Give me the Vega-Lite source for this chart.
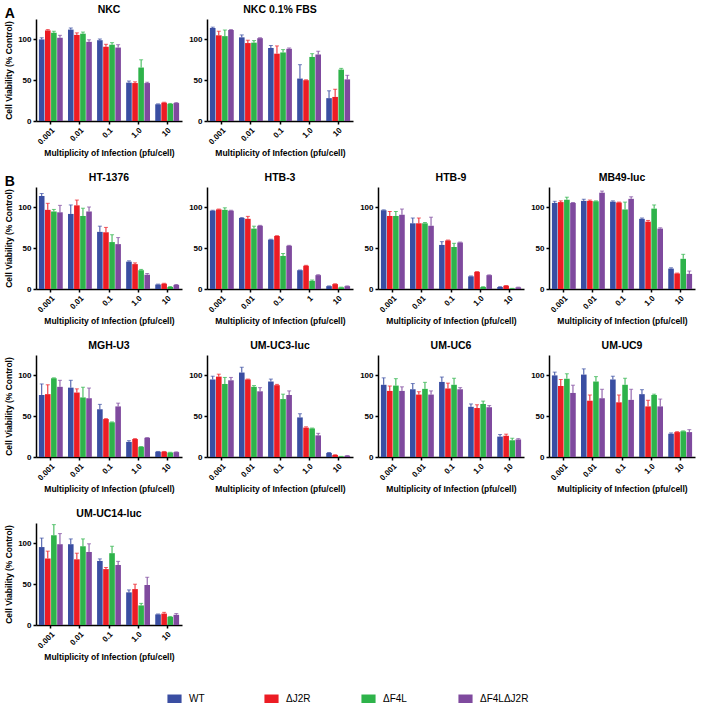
{
"$schema":"https://vega.github.io/schema/vega-lite/v6.json",
"padding":{"left":4,"top":4,"right":4,"bottom":4},
"background":"white",
"datasets":{"d":[
{"p":"NKC","d":"0.001","v":"WT","m":100,"u":102},{"p":"NKC","d":"0.001","v":"ΔJ2R","m":111,"u":112},{"p":"NKC","d":"0.001","v":"ΔF4L","m":108,"u":110},{"p":"NKC","d":"0.001","v":"ΔF4LΔJ2R","m":102,"u":105},
{"p":"NKC","d":"0.01","v":"WT","m":112,"u":114},{"p":"NKC","d":"0.01","v":"ΔJ2R","m":105.5,"u":108},{"p":"NKC","d":"0.01","v":"ΔF4L","m":107,"u":109},{"p":"NKC","d":"0.01","v":"ΔF4LΔJ2R","m":97,"u":99.5},
{"p":"NKC","d":"0.1","v":"WT","m":99,"u":100.5},{"p":"NKC","d":"0.1","v":"ΔJ2R","m":91,"u":94},{"p":"NKC","d":"0.1","v":"ΔF4L","m":93.5,"u":96},{"p":"NKC","d":"0.1","v":"ΔF4LΔJ2R","m":90,"u":93.5},
{"p":"NKC","d":"1.0","v":"WT","m":47,"u":49},{"p":"NKC","d":"1.0","v":"ΔJ2R","m":46.5,"u":48},{"p":"NKC","d":"1.0","v":"ΔF4L","m":65.5,"u":75},{"p":"NKC","d":"1.0","v":"ΔF4LΔJ2R","m":46.5,"u":47.5},
{"p":"NKC","d":"10","v":"WT","m":20.5,"u":21},{"p":"NKC","d":"10","v":"ΔJ2R","m":22.5,"u":23},{"p":"NKC","d":"10","v":"ΔF4L","m":21,"u":21.5},{"p":"NKC","d":"10","v":"ΔF4LΔJ2R","m":22,"u":22.5},

{"p":"NKC 0.1% FBS","d":"0.001","v":"WT","m":114,"u":115},{"p":"NKC 0.1% FBS","d":"0.001","v":"ΔJ2R","m":105,"u":110},{"p":"NKC 0.1% FBS","d":"0.001","v":"ΔF4L","m":104,"u":111.5},{"p":"NKC 0.1% FBS","d":"0.001","v":"ΔF4LΔJ2R","m":111.5,"u":112},
{"p":"NKC 0.1% FBS","d":"0.01","v":"WT","m":102.5,"u":105.5},{"p":"NKC 0.1% FBS","d":"0.01","v":"ΔJ2R","m":95.5,"u":99},{"p":"NKC 0.1% FBS","d":"0.01","v":"ΔF4L","m":96,"u":98.5},{"p":"NKC 0.1% FBS","d":"0.01","v":"ΔF4LΔJ2R","m":101.5,"u":102},
{"p":"NKC 0.1% FBS","d":"0.1","v":"WT","m":89.5,"u":92.5},{"p":"NKC 0.1% FBS","d":"0.1","v":"ΔJ2R","m":82.5,"u":92},{"p":"NKC 0.1% FBS","d":"0.1","v":"ΔF4L","m":84,"u":87.5},{"p":"NKC 0.1% FBS","d":"0.1","v":"ΔF4LΔJ2R","m":88.5,"u":89.5},
{"p":"NKC 0.1% FBS","d":"1.0","v":"WT","m":52,"u":69},{"p":"NKC 0.1% FBS","d":"1.0","v":"ΔJ2R","m":50,"u":50.5},{"p":"NKC 0.1% FBS","d":"1.0","v":"ΔF4L","m":78.5,"u":82.5},{"p":"NKC 0.1% FBS","d":"1.0","v":"ΔF4LΔJ2R","m":81.5,"u":85.5},
{"p":"NKC 0.1% FBS","d":"10","v":"WT","m":28,"u":37},{"p":"NKC 0.1% FBS","d":"10","v":"ΔJ2R","m":29.5,"u":39},{"p":"NKC 0.1% FBS","d":"10","v":"ΔF4L","m":63,"u":64.5},{"p":"NKC 0.1% FBS","d":"10","v":"ΔF4LΔJ2R","m":51,"u":56},

{"p":"HT-1376","d":"0.001","v":"WT","m":114,"u":117},{"p":"HT-1376","d":"0.001","v":"ΔJ2R","m":97,"u":105},{"p":"HT-1376","d":"0.001","v":"ΔF4L","m":95,"u":97.5},{"p":"HT-1376","d":"0.001","v":"ΔF4LΔJ2R","m":94,"u":102.5},
{"p":"HT-1376","d":"0.01","v":"WT","m":92,"u":103},{"p":"HT-1376","d":"0.01","v":"ΔJ2R","m":102.5,"u":109},{"p":"HT-1376","d":"0.01","v":"ΔF4L","m":89.5,"u":99},{"p":"HT-1376","d":"0.01","v":"ΔF4LΔJ2R","m":95,"u":100.5},
{"p":"HT-1376","d":"0.1","v":"WT","m":70,"u":77},{"p":"HT-1376","d":"0.1","v":"ΔJ2R","m":69.5,"u":75.5},{"p":"HT-1376","d":"0.1","v":"ΔF4L","m":57.5,"u":66.5},{"p":"HT-1376","d":"0.1","v":"ΔF4LΔJ2R","m":55,"u":63},
{"p":"HT-1376","d":"1.0","v":"WT","m":33.5,"u":34.5},{"p":"HT-1376","d":"1.0","v":"ΔJ2R","m":30.5,"u":32},{"p":"HT-1376","d":"1.0","v":"ΔF4L","m":23,"u":24},{"p":"HT-1376","d":"1.0","v":"ΔF4LΔJ2R","m":17.5,"u":19},
{"p":"HT-1376","d":"10","v":"WT","m":5.5,"u":6},{"p":"HT-1376","d":"10","v":"ΔJ2R","m":6.5,"u":7},{"p":"HT-1376","d":"10","v":"ΔF4L","m":2.5,"u":3},{"p":"HT-1376","d":"10","v":"ΔF4LΔJ2R","m":5,"u":5.5},

{"p":"HTB-3","d":"0.001","v":"WT","m":96,"u":96.5},{"p":"HTB-3","d":"0.001","v":"ΔJ2R","m":97.5,"u":98},{"p":"HTB-3","d":"0.001","v":"ΔF4L","m":97,"u":99.5},{"p":"HTB-3","d":"0.001","v":"ΔF4LΔJ2R","m":96,"u":96.5},
{"p":"HTB-3","d":"0.01","v":"WT","m":87,"u":87.5},{"p":"HTB-3","d":"0.01","v":"ΔJ2R","m":86,"u":89},{"p":"HTB-3","d":"0.01","v":"ΔF4L","m":74,"u":77},{"p":"HTB-3","d":"0.01","v":"ΔF4LΔJ2R","m":77.5,"u":78},
{"p":"HTB-3","d":"0.1","v":"WT","m":60.5,"u":61},{"p":"HTB-3","d":"0.1","v":"ΔJ2R","m":65,"u":65.3},{"p":"HTB-3","d":"0.1","v":"ΔF4L","m":40.5,"u":43.5},{"p":"HTB-3","d":"0.1","v":"ΔF4LΔJ2R","m":53,"u":53.5},
{"p":"HTB-3","d":"1","v":"WT","m":23,"u":23.3},{"p":"HTB-3","d":"1","v":"ΔJ2R","m":28.5,"u":29},{"p":"HTB-3","d":"1","v":"ΔF4L","m":10,"u":11},{"p":"HTB-3","d":"1","v":"ΔF4LΔJ2R","m":17,"u":17.5},
{"p":"HTB-3","d":"10","v":"WT","m":3.5,"u":3.8},{"p":"HTB-3","d":"10","v":"ΔJ2R","m":6,"u":6.3},{"p":"HTB-3","d":"10","v":"ΔF4L","m":2,"u":2.3},{"p":"HTB-3","d":"10","v":"ΔF4LΔJ2R","m":3.5,"u":3.8},

{"p":"HTB-9","d":"0.001","v":"WT","m":96.5,"u":97},{"p":"HTB-9","d":"0.001","v":"ΔJ2R","m":89.5,"u":95},{"p":"HTB-9","d":"0.001","v":"ΔF4L","m":89.5,"u":95},{"p":"HTB-9","d":"0.001","v":"ΔF4LΔJ2R","m":91,"u":98},
{"p":"HTB-9","d":"0.01","v":"WT","m":80.5,"u":87},{"p":"HTB-9","d":"0.01","v":"ΔJ2R","m":80.5,"u":87},{"p":"HTB-9","d":"0.01","v":"ΔF4L","m":80.5,"u":81.5},{"p":"HTB-9","d":"0.01","v":"ΔF4LΔJ2R","m":77.5,"u":88},
{"p":"HTB-9","d":"0.1","v":"WT","m":54,"u":58},{"p":"HTB-9","d":"0.1","v":"ΔJ2R","m":59.5,"u":60},{"p":"HTB-9","d":"0.1","v":"ΔF4L","m":51.5,"u":56},{"p":"HTB-9","d":"0.1","v":"ΔF4LΔJ2R","m":57,"u":57.5},
{"p":"HTB-9","d":"1.0","v":"WT","m":15.5,"u":16},{"p":"HTB-9","d":"1.0","v":"ΔJ2R","m":21,"u":21.3},{"p":"HTB-9","d":"1.0","v":"ΔF4L","m":2.5,"u":2.8},{"p":"HTB-9","d":"1.0","v":"ΔF4LΔJ2R","m":17,"u":17.3},
{"p":"HTB-9","d":"10","v":"WT","m":2.5,"u":2.8},{"p":"HTB-9","d":"10","v":"ΔJ2R","m":4,"u":4.3},{"p":"HTB-9","d":"10","v":"ΔF4L","m":0.5,"u":0.8},{"p":"HTB-9","d":"10","v":"ΔF4LΔJ2R","m":2,"u":2.3},

{"p":"MB49-luc","d":"0.001","v":"WT","m":105.5,"u":107.5},{"p":"MB49-luc","d":"0.001","v":"ΔJ2R","m":106.5,"u":108},{"p":"MB49-luc","d":"0.001","v":"ΔF4L","m":109.5,"u":112.5},{"p":"MB49-luc","d":"0.001","v":"ΔF4LΔJ2R","m":105.5,"u":106},
{"p":"MB49-luc","d":"0.01","v":"WT","m":108,"u":110},{"p":"MB49-luc","d":"0.01","v":"ΔJ2R","m":108,"u":109},{"p":"MB49-luc","d":"0.01","v":"ΔF4L","m":107.5,"u":108},{"p":"MB49-luc","d":"0.01","v":"ΔF4LΔJ2R","m":118,"u":120},
{"p":"MB49-luc","d":"0.1","v":"WT","m":107,"u":108},{"p":"MB49-luc","d":"0.1","v":"ΔJ2R","m":106,"u":106.5},{"p":"MB49-luc","d":"0.1","v":"ΔF4L","m":97.5,"u":106.5},{"p":"MB49-luc","d":"0.1","v":"ΔF4LΔJ2R","m":110.5,"u":113},
{"p":"MB49-luc","d":"1.0","v":"WT","m":86,"u":87},{"p":"MB49-luc","d":"1.0","v":"ΔJ2R","m":82.5,"u":84},{"p":"MB49-luc","d":"1.0","v":"ΔF4L","m":98.5,"u":103},{"p":"MB49-luc","d":"1.0","v":"ΔF4LΔJ2R","m":74,"u":75},
{"p":"MB49-luc","d":"10","v":"WT","m":25,"u":26},{"p":"MB49-luc","d":"10","v":"ΔJ2R","m":19,"u":19.5},{"p":"MB49-luc","d":"10","v":"ΔF4L","m":37,"u":42.5},{"p":"MB49-luc","d":"10","v":"ΔF4LΔJ2R","m":18.5,"u":22},

{"p":"MGH-U3","d":"0.001","v":"WT","m":76,"u":89.5},{"p":"MGH-U3","d":"0.001","v":"ΔJ2R","m":77,"u":88.5},{"p":"MGH-U3","d":"0.001","v":"ΔF4L","m":96.5,"u":97},{"p":"MGH-U3","d":"0.001","v":"ΔF4LΔJ2R","m":86,"u":94},
{"p":"MGH-U3","d":"0.01","v":"WT","m":85,"u":94},{"p":"MGH-U3","d":"0.01","v":"ΔJ2R","m":79,"u":83.5},{"p":"MGH-U3","d":"0.01","v":"ΔF4L","m":73,"u":85.5},{"p":"MGH-U3","d":"0.01","v":"ΔF4LΔJ2R","m":72,"u":84.5},
{"p":"MGH-U3","d":"0.1","v":"WT","m":58.5,"u":64.5},{"p":"MGH-U3","d":"0.1","v":"ΔJ2R","m":46.5,"u":47},{"p":"MGH-U3","d":"0.1","v":"ΔF4L","m":42.5,"u":43},{"p":"MGH-U3","d":"0.1","v":"ΔF4LΔJ2R","m":62,"u":66},
{"p":"MGH-U3","d":"1.0","v":"WT","m":18.5,"u":20},{"p":"MGH-U3","d":"1.0","v":"ΔJ2R","m":22,"u":22.5},{"p":"MGH-U3","d":"1.0","v":"ΔF4L","m":12.5,"u":12.8},{"p":"MGH-U3","d":"1.0","v":"ΔF4LΔJ2R","m":23.5,"u":23.8},
{"p":"MGH-U3","d":"10","v":"WT","m":6.5,"u":6.8},{"p":"MGH-U3","d":"10","v":"ΔJ2R","m":6.5,"u":6.8},{"p":"MGH-U3","d":"10","v":"ΔF4L","m":5.5,"u":5.8},{"p":"MGH-U3","d":"10","v":"ΔF4LΔJ2R","m":6,"u":6.3},

{"p":"UM-UC3-luc","d":"0.001","v":"WT","m":95,"u":99},{"p":"UM-UC3-luc","d":"0.001","v":"ΔJ2R","m":98.5,"u":101.5},{"p":"UM-UC3-luc","d":"0.001","v":"ΔF4L","m":89.5,"u":97.5},{"p":"UM-UC3-luc","d":"0.001","v":"ΔF4LΔJ2R","m":94,"u":97.5},
{"p":"UM-UC3-luc","d":"0.01","v":"WT","m":103.5,"u":110},{"p":"UM-UC3-luc","d":"0.01","v":"ΔJ2R","m":95,"u":95.5},{"p":"UM-UC3-luc","d":"0.01","v":"ΔF4L","m":86,"u":87.5},{"p":"UM-UC3-luc","d":"0.01","v":"ΔF4LΔJ2R","m":80.5,"u":85},
{"p":"UM-UC3-luc","d":"0.1","v":"WT","m":92.5,"u":95.5},{"p":"UM-UC3-luc","d":"0.1","v":"ΔJ2R","m":88,"u":89},{"p":"UM-UC3-luc","d":"0.1","v":"ΔF4L","m":71,"u":77},{"p":"UM-UC3-luc","d":"0.1","v":"ΔF4LΔJ2R","m":76,"u":81},
{"p":"UM-UC3-luc","d":"1.0","v":"WT","m":48.5,"u":53},{"p":"UM-UC3-luc","d":"1.0","v":"ΔJ2R","m":36,"u":37},{"p":"UM-UC3-luc","d":"1.0","v":"ΔF4L","m":35,"u":35.5},{"p":"UM-UC3-luc","d":"1.0","v":"ΔF4LΔJ2R","m":26.5,"u":29},
{"p":"UM-UC3-luc","d":"10","v":"WT","m":5,"u":5.5},{"p":"UM-UC3-luc","d":"10","v":"ΔJ2R","m":2.5,"u":2.8},{"p":"UM-UC3-luc","d":"10","v":"ΔF4L","m":0.5,"u":0.8},{"p":"UM-UC3-luc","d":"10","v":"ΔF4LΔJ2R","m":1.5,"u":1.8},

{"p":"UM-UC6","d":"0.001","v":"WT","m":88.5,"u":97},{"p":"UM-UC6","d":"0.001","v":"ΔJ2R","m":81,"u":87},{"p":"UM-UC6","d":"0.001","v":"ΔF4L","m":87.5,"u":96},{"p":"UM-UC6","d":"0.001","v":"ΔF4LΔJ2R","m":81,"u":86},
{"p":"UM-UC6","d":"0.01","v":"WT","m":83,"u":90},{"p":"UM-UC6","d":"0.01","v":"ΔJ2R","m":76.5,"u":80},{"p":"UM-UC6","d":"0.01","v":"ΔF4L","m":83.5,"u":91.5},{"p":"UM-UC6","d":"0.01","v":"ΔF4LΔJ2R","m":76.5,"u":81},
{"p":"UM-UC6","d":"0.1","v":"WT","m":92,"u":98},{"p":"UM-UC6","d":"0.1","v":"ΔJ2R","m":84,"u":90.5},{"p":"UM-UC6","d":"0.1","v":"ΔF4L","m":88.5,"u":96.5},{"p":"UM-UC6","d":"0.1","v":"ΔF4LΔJ2R","m":83,"u":85},
{"p":"UM-UC6","d":"1.0","v":"WT","m":61.5,"u":65},{"p":"UM-UC6","d":"1.0","v":"ΔJ2R","m":60,"u":64},{"p":"UM-UC6","d":"1.0","v":"ΔF4L","m":65,"u":68.5},{"p":"UM-UC6","d":"1.0","v":"ΔF4LΔJ2R","m":61,"u":63},
{"p":"UM-UC6","d":"10","v":"WT","m":25,"u":27.5},{"p":"UM-UC6","d":"10","v":"ΔJ2R","m":26,"u":28},{"p":"UM-UC6","d":"10","v":"ΔF4L","m":20.5,"u":23},{"p":"UM-UC6","d":"10","v":"ΔF4LΔJ2R","m":21.5,"u":22.5},

{"p":"UM-UC9","d":"0.001","v":"WT","m":100,"u":104},{"p":"UM-UC9","d":"0.001","v":"ΔJ2R","m":87,"u":95},{"p":"UM-UC9","d":"0.001","v":"ΔF4L","m":96,"u":102},{"p":"UM-UC9","d":"0.001","v":"ΔF4LΔJ2R","m":78.5,"u":88},
{"p":"UM-UC9","d":"0.01","v":"WT","m":101,"u":108},{"p":"UM-UC9","d":"0.01","v":"ΔJ2R","m":69,"u":76},{"p":"UM-UC9","d":"0.01","v":"ΔF4L","m":92.5,"u":98.5},{"p":"UM-UC9","d":"0.01","v":"ΔF4LΔJ2R","m":72,"u":83},
{"p":"UM-UC9","d":"0.1","v":"WT","m":95,"u":99},{"p":"UM-UC9","d":"0.1","v":"ΔJ2R","m":67,"u":76},{"p":"UM-UC9","d":"0.1","v":"ΔF4L","m":88.5,"u":96.5},{"p":"UM-UC9","d":"0.1","v":"ΔF4LΔJ2R","m":70,"u":83},
{"p":"UM-UC9","d":"1.0","v":"WT","m":77,"u":82.5},{"p":"UM-UC9","d":"1.0","v":"ΔJ2R","m":62,"u":69.5},{"p":"UM-UC9","d":"1.0","v":"ΔF4L","m":76,"u":77},{"p":"UM-UC9","d":"1.0","v":"ΔF4LΔJ2R","m":62,"u":71},
{"p":"UM-UC9","d":"10","v":"WT","m":28.5,"u":29.5},{"p":"UM-UC9","d":"10","v":"ΔJ2R","m":30.5,"u":31},{"p":"UM-UC9","d":"10","v":"ΔF4L","m":31.5,"u":32},{"p":"UM-UC9","d":"10","v":"ΔF4LΔJ2R","m":30.5,"u":33.5},

{"p":"UM-UC14-luc","d":"0.001","v":"WT","m":95.5,"u":106.5},{"p":"UM-UC14-luc","d":"0.001","v":"ΔJ2R","m":81.5,"u":90.5},{"p":"UM-UC14-luc","d":"0.001","v":"ΔF4L","m":110,"u":123},{"p":"UM-UC14-luc","d":"0.001","v":"ΔF4LΔJ2R","m":99,"u":112},
{"p":"UM-UC14-luc","d":"0.01","v":"WT","m":99,"u":105.5},{"p":"UM-UC14-luc","d":"0.01","v":"ΔJ2R","m":80.5,"u":88},{"p":"UM-UC14-luc","d":"0.01","v":"ΔF4L","m":96.5,"u":105.5},{"p":"UM-UC14-luc","d":"0.01","v":"ΔF4LΔJ2R","m":89.5,"u":99.5},
{"p":"UM-UC14-luc","d":"0.1","v":"WT","m":78.5,"u":81},{"p":"UM-UC14-luc","d":"0.1","v":"ΔJ2R","m":68.5,"u":70.5},{"p":"UM-UC14-luc","d":"0.1","v":"ΔF4L","m":88,"u":96.5},{"p":"UM-UC14-luc","d":"0.1","v":"ΔF4LΔJ2R","m":73.5,"u":78},
{"p":"UM-UC14-luc","d":"1.0","v":"WT","m":40,"u":43},{"p":"UM-UC14-luc","d":"1.0","v":"ΔJ2R","m":44,"u":50},{"p":"UM-UC14-luc","d":"1.0","v":"ΔF4L","m":24,"u":26.5},{"p":"UM-UC14-luc","d":"1.0","v":"ΔF4LΔJ2R","m":49,"u":58.5},
{"p":"UM-UC14-luc","d":"10","v":"WT","m":13,"u":13.5},{"p":"UM-UC14-luc","d":"10","v":"ΔJ2R","m":14,"u":15.5},{"p":"UM-UC14-luc","d":"10","v":"ΔF4L","m":10,"u":10.5},{"p":"UM-UC14-luc","d":"10","v":"ΔF4LΔJ2R","m":12.5,"u":14}
]},
"data":{"name":"d"},
"spacing":14,
"vconcat":[
{"title":{"text":"A","anchor":"start","offset":-16,"fontSize":14,"fontWeight":"bold"},
 "spacing":6,
 "hconcat":[
  {"width":146,"height":102,"title":"NKC","transform":[{"filter":"datum.p=='NKC'"}],
   "encoding":{"x":{"field":"d","type":"nominal","sort":null,"title":"Multiplicity of Infection (pfu/cell)","scale":{"paddingInner":0.18,"paddingOuter":0.1}},"xOffset":{"field":"v","type":"nominal","sort":["WT","ΔJ2R","ΔF4L","ΔF4LΔJ2R"],"scale":{"paddingInner":0.08}},"color":{"field":"v","type":"nominal","title":null,"scale":{"domain":["WT","ΔJ2R","ΔF4L","ΔF4LΔJ2R"]}}},
   "layer":[
    {"mark":{"type":"bar"},"encoding":{"y":{"field":"m","type":"quantitative","scale":{"domain":[0,125]},"axis":{"values":[0,25,50,75,100,125]},"title":"Cell Viability (% Control)"}}},
    {"mark":{"type":"rule","strokeWidth":1},"encoding":{"y":{"field":"m","type":"quantitative","scale":{"domain":[0,125]},"title":"Cell Viability (% Control)"},"y2":{"field":"u"}}},
    {"mark":{"type":"tick","thickness":1,"size":4},"encoding":{"y":{"field":"u","type":"quantitative","scale":{"domain":[0,125]},"title":"Cell Viability (% Control)"}}}
   ]},
  {"width":146,"height":102,"title":"NKC 0.1% FBS","transform":[{"filter":"datum.p=='NKC 0.1% FBS'"}],
   "encoding":{"x":{"field":"d","type":"nominal","sort":null,"title":"Multiplicity of Infection (pfu/cell)","scale":{"paddingInner":0.18,"paddingOuter":0.1}},"xOffset":{"field":"v","type":"nominal","sort":["WT","ΔJ2R","ΔF4L","ΔF4LΔJ2R"],"scale":{"paddingInner":0.08}},"color":{"field":"v","type":"nominal","title":null,"scale":{"domain":["WT","ΔJ2R","ΔF4L","ΔF4LΔJ2R"]}}},
   "layer":[
    {"mark":{"type":"bar"},"encoding":{"y":{"field":"m","type":"quantitative","scale":{"domain":[0,125]},"axis":{"values":[0,25,50,75,100,125]},"title":null}}},
    {"mark":{"type":"rule","strokeWidth":1},"encoding":{"y":{"field":"m","type":"quantitative","scale":{"domain":[0,125]},"title":null},"y2":{"field":"u"}}},
    {"mark":{"type":"tick","thickness":1,"size":4},"encoding":{"y":{"field":"u","type":"quantitative","scale":{"domain":[0,125]},"title":null}}}
   ]}
 ]},
{"title":{"text":"B","anchor":"start","offset":-16,"fontSize":14,"fontWeight":"bold"},
 "spacing":14,
 "vconcat":[
 {"spacing":6,"hconcat":[
  {"width":146,"height":102,"title":"HT-1376","transform":[{"filter":"datum.p=='HT-1376'"}],
   "encoding":{"x":{"field":"d","type":"nominal","sort":null,"title":"Multiplicity of Infection (pfu/cell)","scale":{"paddingInner":0.18,"paddingOuter":0.1}},"xOffset":{"field":"v","type":"nominal","sort":["WT","ΔJ2R","ΔF4L","ΔF4LΔJ2R"],"scale":{"paddingInner":0.08}},"color":{"field":"v","type":"nominal","title":null,"scale":{"domain":["WT","ΔJ2R","ΔF4L","ΔF4LΔJ2R"]}}},
   "layer":[
    {"mark":{"type":"bar"},"encoding":{"y":{"field":"m","type":"quantitative","scale":{"domain":[0,125]},"axis":{"values":[0,25,50,75,100,125]},"title":"Cell Viability (% Control)"}}},
    {"mark":{"type":"rule","strokeWidth":1},"encoding":{"y":{"field":"m","type":"quantitative","scale":{"domain":[0,125]},"title":"Cell Viability (% Control)"},"y2":{"field":"u"}}},
    {"mark":{"type":"tick","thickness":1,"size":4},"encoding":{"y":{"field":"u","type":"quantitative","scale":{"domain":[0,125]},"title":"Cell Viability (% Control)"}}}
   ]},
  {"width":146,"height":102,"title":"HTB-3","transform":[{"filter":"datum.p=='HTB-3'"}],
   "encoding":{"x":{"field":"d","type":"nominal","sort":null,"title":"Multiplicity of Infection (pfu/cell)","scale":{"paddingInner":0.18,"paddingOuter":0.1}},"xOffset":{"field":"v","type":"nominal","sort":["WT","ΔJ2R","ΔF4L","ΔF4LΔJ2R"],"scale":{"paddingInner":0.08}},"color":{"field":"v","type":"nominal","title":null,"scale":{"domain":["WT","ΔJ2R","ΔF4L","ΔF4LΔJ2R"]}}},
   "layer":[
    {"mark":{"type":"bar"},"encoding":{"y":{"field":"m","type":"quantitative","scale":{"domain":[0,125]},"axis":{"values":[0,25,50,75,100,125]},"title":null}}},
    {"mark":{"type":"rule","strokeWidth":1},"encoding":{"y":{"field":"m","type":"quantitative","scale":{"domain":[0,125]},"title":null},"y2":{"field":"u"}}},
    {"mark":{"type":"tick","thickness":1,"size":4},"encoding":{"y":{"field":"u","type":"quantitative","scale":{"domain":[0,125]},"title":null}}}
   ]},
  {"width":146,"height":102,"title":"HTB-9","transform":[{"filter":"datum.p=='HTB-9'"}],
   "encoding":{"x":{"field":"d","type":"nominal","sort":null,"title":"Multiplicity of Infection (pfu/cell)","scale":{"paddingInner":0.18,"paddingOuter":0.1}},"xOffset":{"field":"v","type":"nominal","sort":["WT","ΔJ2R","ΔF4L","ΔF4LΔJ2R"],"scale":{"paddingInner":0.08}},"color":{"field":"v","type":"nominal","title":null,"scale":{"domain":["WT","ΔJ2R","ΔF4L","ΔF4LΔJ2R"]}}},
   "layer":[
    {"mark":{"type":"bar"},"encoding":{"y":{"field":"m","type":"quantitative","scale":{"domain":[0,125]},"axis":{"values":[0,25,50,75,100,125]},"title":null}}},
    {"mark":{"type":"rule","strokeWidth":1},"encoding":{"y":{"field":"m","type":"quantitative","scale":{"domain":[0,125]},"title":null},"y2":{"field":"u"}}},
    {"mark":{"type":"tick","thickness":1,"size":4},"encoding":{"y":{"field":"u","type":"quantitative","scale":{"domain":[0,125]},"title":null}}}
   ]},
  {"width":146,"height":102,"title":"MB49-luc","transform":[{"filter":"datum.p=='MB49-luc'"}],
   "encoding":{"x":{"field":"d","type":"nominal","sort":null,"title":"Multiplicity of Infection (pfu/cell)","scale":{"paddingInner":0.18,"paddingOuter":0.1}},"xOffset":{"field":"v","type":"nominal","sort":["WT","ΔJ2R","ΔF4L","ΔF4LΔJ2R"],"scale":{"paddingInner":0.08}},"color":{"field":"v","type":"nominal","title":null,"scale":{"domain":["WT","ΔJ2R","ΔF4L","ΔF4LΔJ2R"]}}},
   "layer":[
    {"mark":{"type":"bar"},"encoding":{"y":{"field":"m","type":"quantitative","scale":{"domain":[0,125]},"axis":{"values":[0,25,50,75,100,125]},"title":null}}},
    {"mark":{"type":"rule","strokeWidth":1},"encoding":{"y":{"field":"m","type":"quantitative","scale":{"domain":[0,125]},"title":null},"y2":{"field":"u"}}},
    {"mark":{"type":"tick","thickness":1,"size":4},"encoding":{"y":{"field":"u","type":"quantitative","scale":{"domain":[0,125]},"title":null}}}
   ]}
 ]},
 {"spacing":6,"hconcat":[
  {"width":146,"height":102,"title":"MGH-U3","transform":[{"filter":"datum.p=='MGH-U3'"}],
   "encoding":{"x":{"field":"d","type":"nominal","sort":null,"title":"Multiplicity of Infection (pfu/cell)","scale":{"paddingInner":0.18,"paddingOuter":0.1}},"xOffset":{"field":"v","type":"nominal","sort":["WT","ΔJ2R","ΔF4L","ΔF4LΔJ2R"],"scale":{"paddingInner":0.08}},"color":{"field":"v","type":"nominal","title":null,"scale":{"domain":["WT","ΔJ2R","ΔF4L","ΔF4LΔJ2R"]}}},
   "layer":[
    {"mark":{"type":"bar"},"encoding":{"y":{"field":"m","type":"quantitative","scale":{"domain":[0,125]},"axis":{"values":[0,25,50,75,100,125]},"title":"Cell Viability (% Control)"}}},
    {"mark":{"type":"rule","strokeWidth":1},"encoding":{"y":{"field":"m","type":"quantitative","scale":{"domain":[0,125]},"title":"Cell Viability (% Control)"},"y2":{"field":"u"}}},
    {"mark":{"type":"tick","thickness":1,"size":4},"encoding":{"y":{"field":"u","type":"quantitative","scale":{"domain":[0,125]},"title":"Cell Viability (% Control)"}}}
   ]},
  {"width":146,"height":102,"title":"UM-UC3-luc","transform":[{"filter":"datum.p=='UM-UC3-luc'"}],
   "encoding":{"x":{"field":"d","type":"nominal","sort":null,"title":"Multiplicity of Infection (pfu/cell)","scale":{"paddingInner":0.18,"paddingOuter":0.1}},"xOffset":{"field":"v","type":"nominal","sort":["WT","ΔJ2R","ΔF4L","ΔF4LΔJ2R"],"scale":{"paddingInner":0.08}},"color":{"field":"v","type":"nominal","title":null,"scale":{"domain":["WT","ΔJ2R","ΔF4L","ΔF4LΔJ2R"]}}},
   "layer":[
    {"mark":{"type":"bar"},"encoding":{"y":{"field":"m","type":"quantitative","scale":{"domain":[0,125]},"axis":{"values":[0,25,50,75,100,125]},"title":null}}},
    {"mark":{"type":"rule","strokeWidth":1},"encoding":{"y":{"field":"m","type":"quantitative","scale":{"domain":[0,125]},"title":null},"y2":{"field":"u"}}},
    {"mark":{"type":"tick","thickness":1,"size":4},"encoding":{"y":{"field":"u","type":"quantitative","scale":{"domain":[0,125]},"title":null}}}
   ]},
  {"width":146,"height":102,"title":"UM-UC6","transform":[{"filter":"datum.p=='UM-UC6'"}],
   "encoding":{"x":{"field":"d","type":"nominal","sort":null,"title":"Multiplicity of Infection (pfu/cell)","scale":{"paddingInner":0.18,"paddingOuter":0.1}},"xOffset":{"field":"v","type":"nominal","sort":["WT","ΔJ2R","ΔF4L","ΔF4LΔJ2R"],"scale":{"paddingInner":0.08}},"color":{"field":"v","type":"nominal","title":null,"scale":{"domain":["WT","ΔJ2R","ΔF4L","ΔF4LΔJ2R"]}}},
   "layer":[
    {"mark":{"type":"bar"},"encoding":{"y":{"field":"m","type":"quantitative","scale":{"domain":[0,125]},"axis":{"values":[0,25,50,75,100,125]},"title":null}}},
    {"mark":{"type":"rule","strokeWidth":1},"encoding":{"y":{"field":"m","type":"quantitative","scale":{"domain":[0,125]},"title":null},"y2":{"field":"u"}}},
    {"mark":{"type":"tick","thickness":1,"size":4},"encoding":{"y":{"field":"u","type":"quantitative","scale":{"domain":[0,125]},"title":null}}}
   ]},
  {"width":146,"height":102,"title":"UM-UC9","transform":[{"filter":"datum.p=='UM-UC9'"}],
   "encoding":{"x":{"field":"d","type":"nominal","sort":null,"title":"Multiplicity of Infection (pfu/cell)","scale":{"paddingInner":0.18,"paddingOuter":0.1}},"xOffset":{"field":"v","type":"nominal","sort":["WT","ΔJ2R","ΔF4L","ΔF4LΔJ2R"],"scale":{"paddingInner":0.08}},"color":{"field":"v","type":"nominal","title":null,"scale":{"domain":["WT","ΔJ2R","ΔF4L","ΔF4LΔJ2R"]}}},
   "layer":[
    {"mark":{"type":"bar"},"encoding":{"y":{"field":"m","type":"quantitative","scale":{"domain":[0,125]},"axis":{"values":[0,25,50,75,100,125]},"title":null}}},
    {"mark":{"type":"rule","strokeWidth":1},"encoding":{"y":{"field":"m","type":"quantitative","scale":{"domain":[0,125]},"title":null},"y2":{"field":"u"}}},
    {"mark":{"type":"tick","thickness":1,"size":4},"encoding":{"y":{"field":"u","type":"quantitative","scale":{"domain":[0,125]},"title":null}}}
   ]}
 ]},
 {"hconcat":[
  {"width":146,"height":102,"title":"UM-UC14-luc","transform":[{"filter":"datum.p=='UM-UC14-luc'"}],
   "encoding":{"x":{"field":"d","type":"nominal","sort":null,"title":"Multiplicity of Infection (pfu/cell)","scale":{"paddingInner":0.18,"paddingOuter":0.1}},"xOffset":{"field":"v","type":"nominal","sort":["WT","ΔJ2R","ΔF4L","ΔF4LΔJ2R"],"scale":{"paddingInner":0.08}},"color":{"field":"v","type":"nominal","title":null,"scale":{"domain":["WT","ΔJ2R","ΔF4L","ΔF4LΔJ2R"]}}},
   "layer":[
    {"mark":{"type":"bar"},"encoding":{"y":{"field":"m","type":"quantitative","scale":{"domain":[0,125]},"axis":{"values":[0,25,50,75,100,125]},"title":"Cell Viability (% Control)"}}},
    {"mark":{"type":"rule","strokeWidth":1},"encoding":{"y":{"field":"m","type":"quantitative","scale":{"domain":[0,125]},"title":"Cell Viability (% Control)"},"y2":{"field":"u"}}},
    {"mark":{"type":"tick","thickness":1,"size":4},"encoding":{"y":{"field":"u","type":"quantitative","scale":{"domain":[0,125]},"title":"Cell Viability (% Control)"}}}
   ]}
 ]}
 ]}
],
"config":{
 "font":"Liberation Sans",
 "view":{"stroke":null},
 "range":{"category":["#3A4EA2","#EC1C24","#2EB34A","#7F4A9E"]},
 "title":{"font":"Liberation Sans","fontSize":10.5,"fontWeight":"bold","offset":4,"color":"black"},
 "axis":{"labelFont":"Liberation Sans","titleFont":"Liberation Sans","labelFontWeight":"bold","titleFontWeight":"bold","labelFontSize":8,"titleFontSize":8.5,"labelColor":"black","titleColor":"black","domainColor":"black","tickColor":"black","domainWidth":1.5,"tickWidth":1.5,"tickSize":3,"grid":false,"labelPadding":2},
 "axisX":{"labelAngle":-45,"titlePadding":3},
 "axisY":{"titlePadding":4},
 "legend":{"orient":"none","legendX":131,"legendY":672,"direction":"horizontal","columns":4,"gridAlign":"all","columnPadding":26,"symbolType":"M-1,-0.6H1V0.6H-1Z","symbolSize":200,"symbolStrokeWidth":0,"labelFont":"Liberation Sans","labelFontSize":10,"labelColor":"black","symbolOpacity":1,"labelOffset":7}
}
}
